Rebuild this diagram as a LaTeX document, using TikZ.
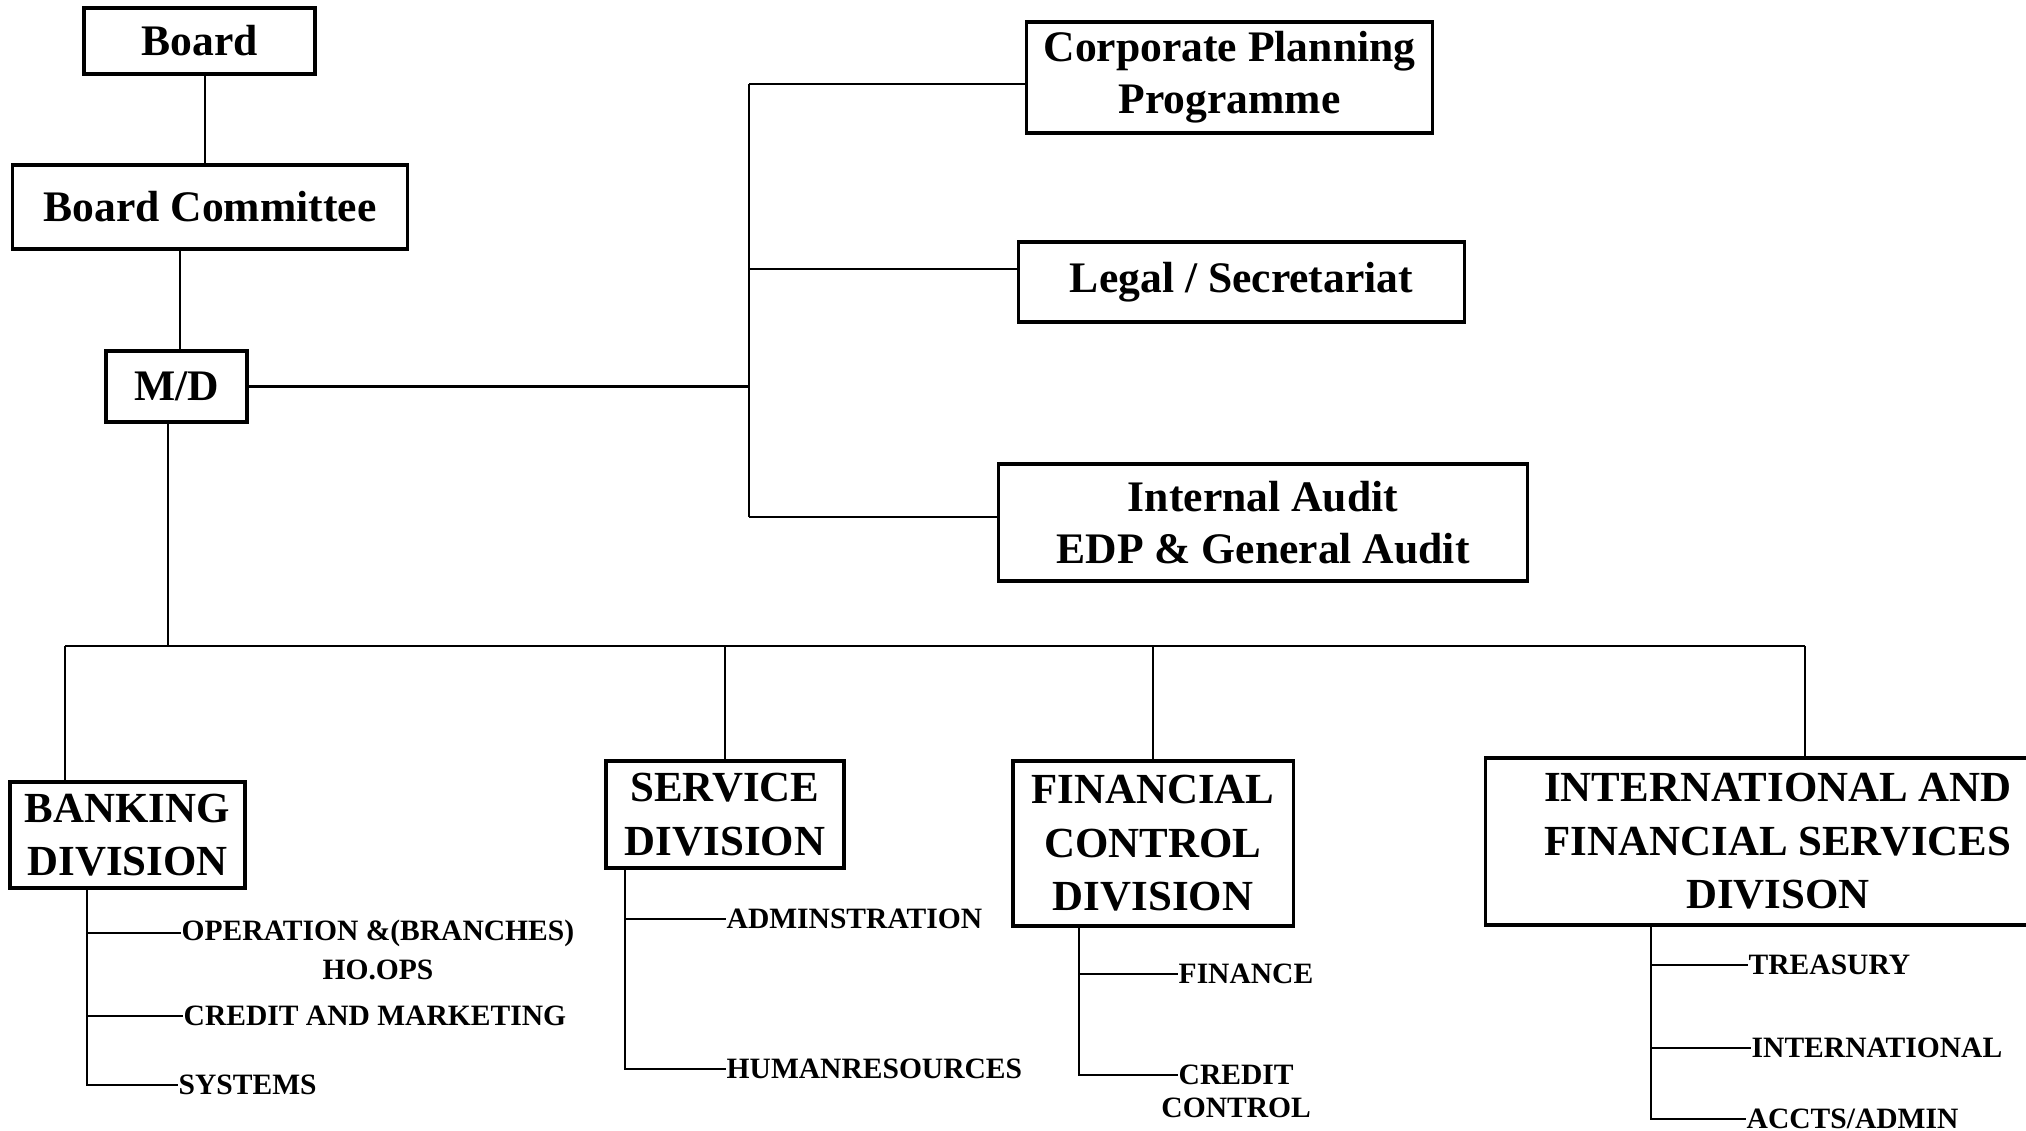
\documentclass[tikz,border=0pt]{standalone}
\usepackage{fontspec}
\setmainfont{Liberation Serif}
\usetikzlibrary{positioning}

\begin{document}
\begin{tikzpicture}[x=0.01cm, y=-0.01cm,
    box/.style={draw, line width=0.9pt, inner sep=0pt, align=center,
        font=\fontsize{12.4}{14.7}\selectfont\bfseries},
    division/.style={box, font=\fontsize{12.2}{15.2}\selectfont\bfseries},
    item/.style={anchor=west, inner sep=0pt, font=\fontsize{8.4}{10}\selectfont\bfseries},
    link/.style={line width=0.75pt}]
    \useasboundingbox (0,0) rectangle (2026,1131);
    % top of the chart
    \node[box, minimum width=2.31cm, minimum height=0.66cm] (board) at (199.5,41) {Board};
    \node[box, minimum width=3.94cm, minimum height=0.84cm] (bc) at (210,207) {Board Committee};
    \node[box, minimum width=1.41cm, minimum height=0.71cm] (md) at (176.5,386.5) {M/D};
    \node[box, minimum width=4.05cm, minimum height=1.11cm] (cpp) at (1229.5,77.5) {Corporate Planning\\Programme};
    \node[box, minimum width=4.45cm, minimum height=0.80cm] (legal) at (1241.5,282) {Legal / Secretariat};
    \node[box, minimum width=5.28cm, minimum height=1.17cm] (audit) at (1263,522.5) {Internal Audit\\EDP \& General Audit};
    \coordinate (trunk) at (749,386.5);
    \coordinate (cppin) at ([yshift=-0.65mm]cpp.west);
    \coordinate (legalin) at ([yshift=1.3mm]legal.west);
    \coordinate (auditin) at ([yshift=0.55mm]audit.west);
    \draw[link] ([xshift=0.55mm]board.south) -- ([xshift=0.55mm]board.south |- bc.north);
    \draw[link] ([xshift=0.35mm]md.north) -- ([xshift=0.35mm]md.north |- bc.south);
    \draw[link] (md.east) -- (trunk);
    \draw[link] (trunk |- cppin) -- (trunk |- auditin);
    \draw[link] (trunk |- cppin) -- (cppin);
    \draw[link] (trunk |- legalin) -- (legalin);
    \draw[link] (trunk |- auditin) -- (auditin);
    % divisions
    \node[division, minimum width=2.35cm, minimum height=1.06cm] (banking) at (127.5,835) {BANKING\\DIVISION};
    \node[division, minimum width=2.38cm, minimum height=1.07cm] (service) at (725,814.5) {SERVICE\\DIVISION};
    \node[division, minimum width=2.80cm, minimum height=1.65cm] (fincon) at (1153,843.5) {FINANCIAL\\CONTROL\\DIVISION};
    \node[division, minimum width=5.84cm, minimum height=1.67cm] (intl) at (1778,841.5) {INTERNATIONAL AND\\FINANCIAL SERVICES\\DIVISON};
    \coordinate (busL) at (65,646);
    \coordinate (busR) at (1805,646);
    \draw[link] ([xshift=-0.85mm]md.south) -- ([xshift=-0.85mm]md.south |- busL);
    \draw[link] (busL) -- (busR);
    \draw[link] (busL) -- (busL |- banking.north);
    \draw[link] (service.north |- busL) -- (service.north);
    \draw[link] (fincon.north |- busL) -- (fincon.north);
    \draw[link] (busR) -- (busR |- intl.north);
    % sections under each division
    \node[item] (ops) at (181,933) {OPERATION \&(BRANCHES)};
    \node[item, anchor=north, below=0.12cm of ops] (hoops) {HO.OPS};
    \node[item] (credmkt) at (183,1016) {CREDIT AND MARKETING};
    \node[item] (systems) at (178,1085) {SYSTEMS};
    \node[item] (admin) at (726,919) {ADMINSTRATION};
    \node[item] (hr) at (726,1069) {HUMANRESOURCES};
    \node[item] (finance) at (1178,974) {FINANCE};
    \node[item] (credit) at (1178,1075) {CREDIT};
    \node[item, anchor=north, below=0.12cm of credit] (control) {CONTROL};
    \node[item] (treasury) at (1748,965) {TREASURY};
    \node[item] (intlsub) at (1751,1048) {INTERNATIONAL};
    \node[item] (accts) at (1746,1119) {ACCTS/ADMIN};
    \draw[link] ([xshift=-4.05mm]banking.south) |- (ops.west);
    \draw[link] ([xshift=-4.05mm]banking.south) |- (credmkt.west);
    \draw[link] ([xshift=-4.05mm]banking.south) |- (systems.west);
    \draw[link] ([xshift=-10mm]service.south) |- (admin.west);
    \draw[link] ([xshift=-10mm]service.south) |- (hr.west);
    \draw[link] ([xshift=-7.4mm]fincon.south) |- (finance.west);
    \draw[link] ([xshift=-7.4mm]fincon.south) |- (credit.west);
    \draw[link] ([xshift=-12.7mm]intl.south) |- (treasury.west);
    \draw[link] ([xshift=-12.7mm]intl.south) |- (intlsub.west);
    \draw[link] ([xshift=-12.7mm]intl.south) |- (accts.west);
\end{tikzpicture}
\end{document}
